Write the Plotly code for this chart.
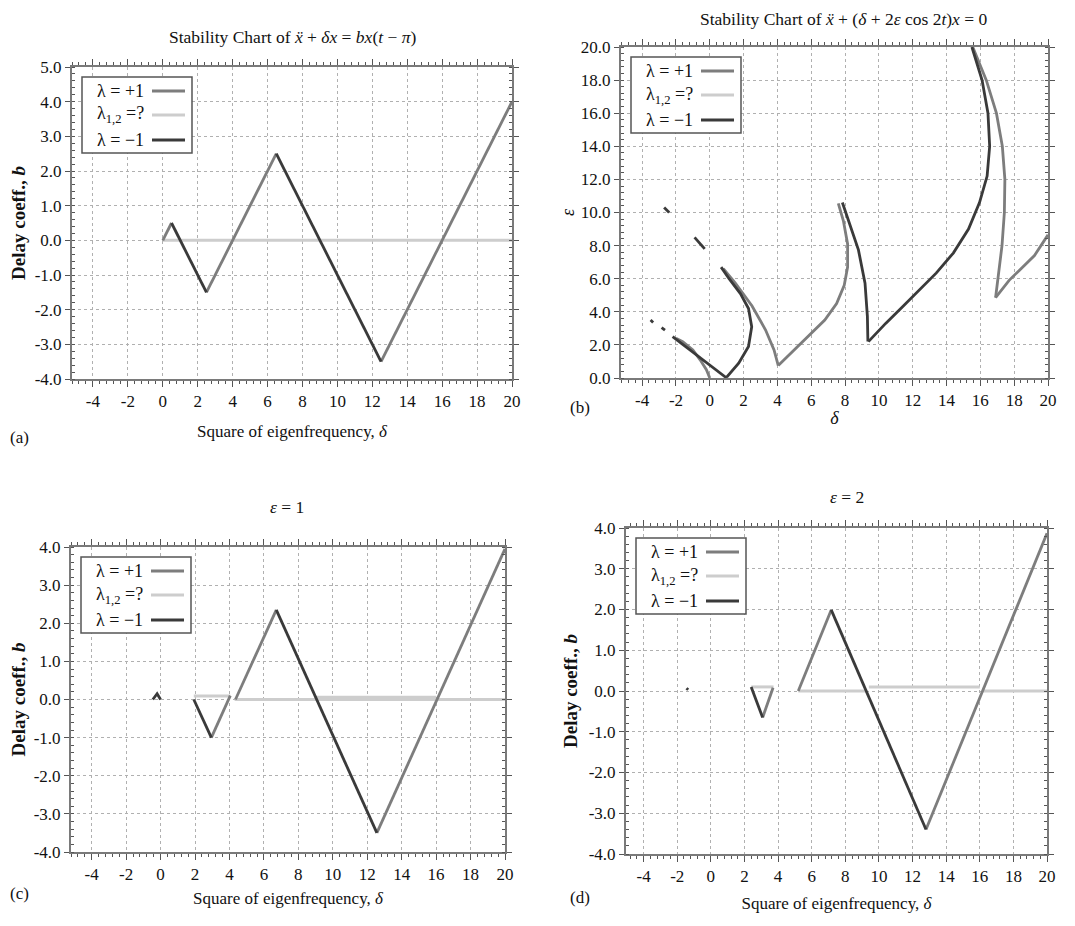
import plotly.graph_objects as go

# ---------------- data ----------------
# Panel (a): stability chart of x'' + delta x = b x(t - pi)
a_pos_d = [0.0, 0.5, None, 2.5, 6.5, None, 12.5, 20.0]
a_pos_b = [0.0, 0.5, None, -1.5, 2.5, None, -3.5, 4.0]
a_neg_d = [0.5, 2.5, None, 6.5, 12.5]
a_neg_b = [0.5, -1.5, None, 2.5, -3.5]
a_unk_d = [0.0, 20.0]
a_unk_b = [0.0, 0.0]

# Panel (b): Mathieu stability chart (delta, epsilon)
b_pos_d = [0.0, -0.2, -0.57, -1.0, -1.6, -2.0, None,
           0.8, 1.5, 2.5, 3.3, 3.8, 4.05, None,
           4.05, 5.4, 6.8, 7.5, 7.95, 8.15, 8.15, 7.9, 7.6, None,
           15.55, 16.35, 16.95, 17.3, 17.45, 17.42, 17.28, 17.05, 16.9, None,
           16.9, 17.7, 18.3, 19.2, 20.0]
b_pos_e = [0.0, 0.5, 1.1, 1.7, 2.2, 2.4, None,
           6.6, 5.75, 4.35, 2.9, 1.7, 0.75, None,
           0.75, 2.1, 3.5, 4.5, 5.6, 6.7, 8.1, 9.5, 10.55, None,
           20.0, 18.0, 16.0, 14.0, 12.0, 10.0, 8.0, 6.0, 4.85, None,
           4.85, 5.9, 6.5, 7.4, 8.65]
b_neg_d = [1.0, -0.1, -1.15, -2.2, None,
           -2.85, -2.65, None, -3.5, -3.35, None,
           -0.9, -0.3, None, -2.7, -2.4, None,
           1.0, 1.71, 2.29, 2.48, 2.29, 1.81, 1.14, 0.67, None,
           7.84, 8.19, 8.79, 9.18, 9.32, 9.35, None,
           9.38, 10.4, 11.4, 12.4, 13.4, 14.4, 15.3, 15.95, 16.4, 16.55, 16.45, 16.1, 15.5]
b_neg_e = [0.0, 0.85, 1.7, 2.5, None,
           3.05, 2.9, None, 3.5, 3.35, None,
           8.5, 7.8, None, 10.3, 10.0, None,
           0.05, 0.9, 1.9, 3.1, 4.2, 5.1, 6.0, 6.7, None,
           10.6, 9.55, 7.74, 5.73, 3.72, 2.21, None,
           2.2, 3.3, 4.3, 5.3, 6.35, 7.55, 9.0, 10.6, 12.2, 14.0, 16.0, 18.0, 20.0]

# Panel (c): epsilon = 1
c_pos_d = [2.95, 4.05, None, 4.35, 6.72, None, 12.56, 20.0]
c_pos_b = [-1.0, 0.1, None, 0.0, 2.35, None, -3.5, 3.95]
c_neg_d = [-0.45, -0.2, 0.0, None, 1.93, 2.95, None, 6.72, 12.56]
c_neg_b = [0.0, 0.15, 0.0, None, 0.0, -1.0, None, 2.35, -3.5]
c_unk_d = [1.93, 4.05, None, 4.3, 20.0, None, 9.0, 16.0]
c_unk_b = [0.09, 0.09, None, 0.0, 0.0, None, 0.06, 0.06]

# Panel (d): epsilon = 2
d_pos_d = [3.08, 3.7, None, 5.2, 7.16, None, 12.8, 20.0]
d_pos_b = [-0.65, 0.08, None, 0.0, 1.99, None, -3.4, 3.87]
d_neg_d = [-1.45, -1.35, None, 2.4, 3.08, None, 7.16, 12.8]
d_neg_b = [0.07, 0.03, None, 0.1, -0.65, None, 1.99, -3.4]
d_unk_d = [2.4, 3.73, None, 5.2, 9.3, None, 9.4, 16.0, None, 16.2, 20.0]
d_unk_b = [0.1, 0.1, None, 0.0, 0.0, None, 0.1, 0.1, None, 0.0, 0.0]

# tick labels
x_ticks = [-4, -2, 0, 2, 4, 6, 8, 10, 12, 14, 16, 18, 20]
x_tick_text = ["-4", "-2", "0", "2", "4", "6", "8", "10", "12", "14", "16", "18", "20"]
y_ticks_a = [-4, -3, -2, -1, 0, 1, 2, 3, 4, 5]
y_ticks_b = [0, 2, 4, 6, 8, 10, 12, 14, 16, 18, 20]
y_ticks_cd = [-4, -3, -2, -1, 0, 1, 2, 3, 4]
legend_labels = ["λ = +1", "λ<sub>1,2</sub> =?", "λ = −1"]

# ---------------- styling ----------------
W, H = 1075, 926
OFF = 8  # page body margin in the browser
FONT = "Liberation Serif, DejaVu Serif, serif"
C_POS, C_UNK, C_NEG = "#7d7d7d", "#cdcdcd", "#3a3a3a"
LW = 2.8
XT = "Square of eigenfrequency, <i>δ</i>"
YT = "<b>Delay coeff., <i>b</i></b>"

def px(x):
    return (x - OFF) / W

def py(y):
    return 1 - (y - OFF) / H

def ylab(v):
    return ("%.1f" % v)

# plot-area pixel boxes (left, right, top, bottom) and axis titles
P = {
    "a": dict(L=72, R=512, T=67, B=379, ax="", xr=[-5.2, 20], yr=[-4, 5], yt=y_ticks_a, mdy=0.2,
              xt=XT, xs=17, xso=15, yt_=YT, ys=19, yso=6),
    "b": dict(L=621, R=1048, T=47, B=378, ax="2", xr=[-5.25, 20], yr=[0, 20], yt=y_ticks_b, mdy=0.4,
              xt="<i>δ</i>", xs=18, xso=2, yt_="<i>ε</i>", ys=18, yso=2),
    "c": dict(L=71, R=505, T=547, B=852, ax="3", xr=[-5.2, 20], yr=[-4, 4], yt=y_ticks_cd, mdy=0.2,
              xt=XT, xs=17, xso=9, yt_=YT, ys=19, yso=5),
    "d": dict(L=626, R=1047, T=528, B=854, ax="4", xr=[-5.05, 20], yr=[-4, 4], yt=y_ticks_cd, mdy=0.2,
              xt=XT, xs=17, xso=12, yt_=YT, ys=19, yso=6),
}

fig = go.Figure()

series = {
    "a": (a_unk_d, a_unk_b, a_pos_d, a_pos_b, a_neg_d, a_neg_b),
    "b": (None, None, b_pos_d, b_pos_e, b_neg_d, b_neg_e),
    "c": (c_unk_d, c_unk_b, c_pos_d, c_pos_b, c_neg_d, c_neg_b),
    "d": (d_unk_d, d_unk_b, d_pos_d, d_pos_b, d_neg_d, d_neg_b),
}

for k, (ux, uy, px_, py_, nx, ny) in series.items():
    ax = P[k]["ax"]
    xa, ya = "x" + ax, "y" + ax
    if ux is not None:
        fig.add_trace(go.Scatter(x=ux, y=uy, mode="lines", xaxis=xa, yaxis=ya,
                                 line=dict(color=C_UNK, width=3), showlegend=False))
    fig.add_trace(go.Scatter(x=px_, y=py_, mode="lines", xaxis=xa, yaxis=ya,
                             line=dict(color=C_POS, width=LW), showlegend=False))
    fig.add_trace(go.Scatter(x=nx, y=ny, mode="lines", xaxis=xa, yaxis=ya,
                             line=dict(color=C_NEG, width=LW), showlegend=False))

layout = dict(width=W, height=H, margin=dict(l=0, r=0, t=0, b=0),
              paper_bgcolor="white", plot_bgcolor="white", showlegend=False,
              font=dict(family=FONT, size=17, color="#111"))

for k, p in P.items():
    ax = p["ax"]
    common = dict(showline=True, linecolor="#7a7a7a", linewidth=2, mirror="ticks",
                  showgrid=True, gridcolor="#b0b0b0", griddash="dot", gridwidth=1,
                  zeroline=False, tickfont=dict(family=FONT, size=17, color="#111"),
                  tickcolor="#555", tickwidth=1, automargin=False)
    layout["xaxis" + ax] = dict(common, domain=[px(p["L"]), px(p["R"])], range=p["xr"],
                                anchor="y" + ax, tickvals=x_ticks, ticktext=x_tick_text,
                                ticks="outside", ticklen=6,
                                title=dict(text=p["xt"], standoff=p["xso"],
                                           font=dict(family=FONT, size=p["xs"], color="#111")),
                                minor=dict(dtick=0.4, tick0=0, ticks="outside", ticklen=3,
                                           tickcolor="#555", showgrid=False))
    layout["yaxis" + ax] = dict(common, domain=[py(p["B"]), py(p["T"])], range=p["yr"],
                                anchor="x" + ax, tickvals=p["yt"],
                                ticktext=[ylab(v) for v in p["yt"]],
                                ticks="outside", ticklen=5,
                                title=dict(text=p["yt_"], standoff=p["yso"],
                                           font=dict(family=FONT, size=p["ys"], color="#111")),
                                minor=dict(dtick=p["mdy"], tick0=0, ticks="inside", ticklen=3,
                                           tickcolor="#555", showgrid=False))

fig.update_layout(**layout)

ann = []
shapes = []

def text(x, y, s, size=17, xanchor="center", angle=0):
    ann.append(dict(x=px(x), y=py(y), xref="paper", yref="paper", text=s, showarrow=False,
                    xanchor=xanchor, yanchor="middle", textangle=angle,
                    font=dict(family=FONT, size=size, color="#111")))

# titles
TS = 17.5
text(292, 37, "Stability Chart of <i>ẍ</i> + <i>δx</i> = <i>bx</i>(<i>t</i> − <i>π</i>)", size=TS)
text(843, 19, "Stability Chart of <i>ẍ</i> + (<i>δ</i> + 2<i>ε</i> cos 2<i>t</i>)<i>x</i> = 0", size=TS)
text(287, 507, "<i>ε</i> = 1", size=TS)
text(847, 497, "<i>ε</i> = 2", size=TS)
# panel labels
text(8, 438, "(a)", xanchor="left")
text(568, 407, "(b)", xanchor="left")
text(8, 893, "(c)", xanchor="left")
text(568, 897, "(d)", xanchor="left")

# legends (drawn in each panel's upper-left corner)
for k, p in P.items():
    L, T = p["L"], p["T"]
    shapes.append(dict(type="rect", xref="paper", yref="paper",
                       x0=px(L + 10), x1=px(L + 120), y0=py(T + 86), y1=py(T + 10),
                       line=dict(color="#555", width=1.5), fillcolor="white", layer="above"))
    for i, (lab, col) in enumerate(zip(legend_labels, [C_POS, C_UNK, C_NEG])):
        yy = T + [24, 48, 73][i]
        text(L + 74, yy, lab, size=18, xanchor="right")
        shapes.append(dict(type="line", xref="paper", yref="paper",
                           x0=px(L + 80), x1=px(L + 113), y0=py(yy), y1=py(yy),
                           line=dict(color=col, width=LW), layer="above"))

fig.update_layout(annotations=ann, shapes=shapes)
fig.write_html("out.html")
